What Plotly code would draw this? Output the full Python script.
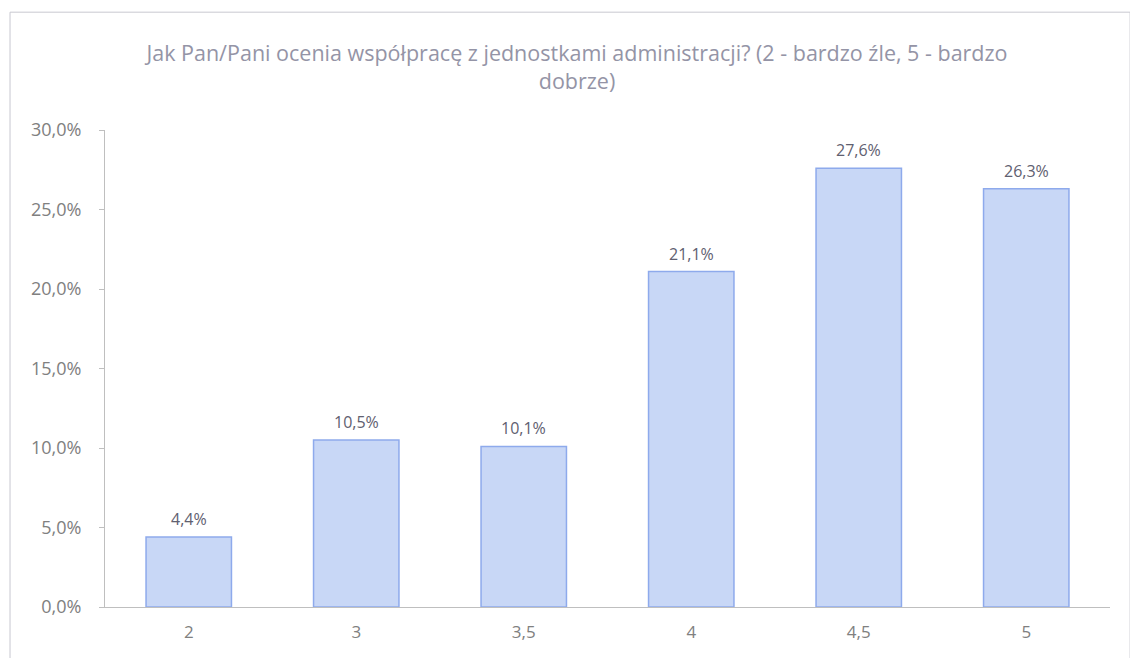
import plotly.graph_objects as go

categories = ["2", "3", "3,5", "4", "4,5", "5"]
values = [4.4, 10.5, 10.1, 21.1, 27.6, 26.3]
labels = ["4,4%", "10,5%", "10,1%", "21,1%", "27,6%", "26,3%"]
tick_vals = [0, 5, 10, 15, 20, 25, 30]
tick_text = ["0,0%", "5,0%", "10,0%", "15,0%", "20,0%", "25,0%", "30,0%"]
title = "Jak Pan/Pani ocenia współpracę z jednostkami administracji? (2 - bardzo źle, 5 - bardzo<br>dobrze)"

fig = go.Figure(go.Bar(
    x=categories, y=values,
    marker=dict(color="#c8d7f6", line=dict(color="#8eaaec", width=1.5)),
))

for i, (v, t) in enumerate(zip(values, labels)):
    fig.add_annotation(x=i, y=v, text=t, showarrow=False, yanchor="bottom",
                       yshift=5, font=dict(family="Open Sans", size=16, color="#606070"))

fig.update_layout(
    width=1138, height=658,
    margin=dict(l=97, r=36, t=122, b=59),
    paper_bgcolor="white", plot_bgcolor="white",
    font=dict(family="Open Sans, sans-serif", color="#7f7f7f"),
    title=dict(text=title, x=0.5, xref="container", xanchor="center", y=0.92, yanchor="top",
               font=dict(family="Open Sans", size=21.5, color="#9494a6")),
    bargap=0.49,
    showlegend=False,
    xaxis=dict(type="category", showline=True, linecolor="#bfbfbf", linewidth=1,
               ticks="", ticklabelstandoff=10,
               tickfont=dict(size=17, color="#808080"), showgrid=False),
    yaxis=dict(range=[0, 30], tickvals=tick_vals, ticktext=tick_text, showline=True,
               linecolor="#bfbfbf", linewidth=1, ticks="outside", ticklen=5,
               tickcolor="#bfbfbf", showgrid=False, zeroline=False,
               ticklabelstandoff=14,
               tickfont=dict(size=18, color="#808080")),
    shapes=[dict(type="rect", xref="paper", yref="paper",
                 x0=-0.0945, x1=1.02, y0=-0.2, y1=1.247,
                 line=dict(color="#c8c8d0", width=1))],
)

fig.write_html("out.html")
